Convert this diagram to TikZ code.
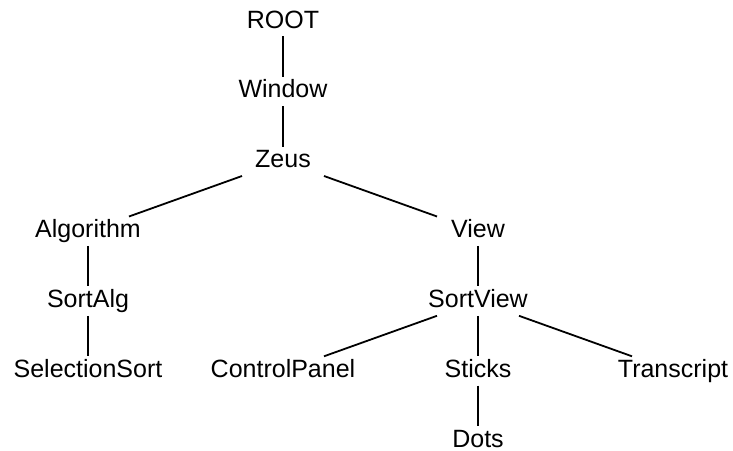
\documentclass[tikz,border=0pt]{standalone}
\usepackage{fontspec}
\setmainfont{Liberation Sans}
\usetikzlibrary{positioning}

\tikzset{
	lbl/.style={rectangle, font=\fontsize{25pt}{30pt}\selectfont, text height=18pt, text depth=5pt, inner xsep=14pt, inner ysep=3pt},
	link/.style={black, line width=1.8pt}
}

\begin{document}
\begin{tikzpicture}
	\useasboundingbox (0pt, 0pt) rectangle (733pt, -450pt);

	\node[lbl, anchor=base] (Root) at (283pt, -28pt) {ROOT};
	\node[lbl, below=40.5pt of Root] (Window) {Window};
	\node[lbl, below=40.5pt of Window] (Zeus) {Zeus};

	% left branch
	\node[lbl, below=40.5pt of Zeus, xshift=-195pt] (Algorithm) {Algorithm};
	\node[lbl, below=40.5pt of Algorithm] (SortAlg) {SortAlg};
	\node[lbl, below=40.5pt of SortAlg] (SelectionSort) {SelectionSort};

	% right branch
	\node[lbl, below=40.5pt of Zeus, xshift=195pt] (View) {View};
	\node[lbl, below=40.5pt of View] (SortView) {SortView};
	\node[lbl, below=40.5pt of SortView, xshift=-195pt] (ControlPanel) {ControlPanel};
	\node[lbl, below=40.5pt of SortView] (Sticks) {Sticks};
	\node[lbl, below=40.5pt of SortView, xshift=195pt] (Transcript) {Transcript};
	\node[lbl, text depth=0pt, below=40.5pt of Sticks] (Dots) {Dots};

	\draw[link] (Root) -- (Window);
	\draw[link] (Window) -- (Zeus);
	\draw[link] (Zeus) -- (Algorithm);
	\draw[link] (Zeus) -- (View);
	\draw[link] (Algorithm) -- (SortAlg);
	\draw[link] (SortAlg) -- (SelectionSort);
	\draw[link] (View) -- (SortView);
	\draw[link] (SortView) -- (ControlPanel);
	\draw[link] (SortView) -- (Sticks);
	\draw[link] (SortView) -- (Transcript);
	\draw[link] (Sticks) -- (Dots);

\end{tikzpicture}
\end{document}
